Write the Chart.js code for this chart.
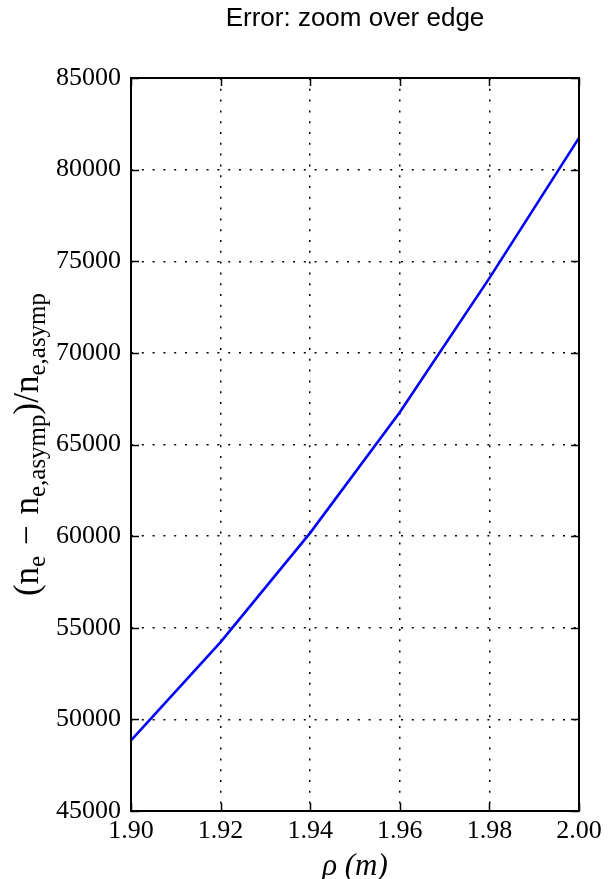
<!DOCTYPE html>
<html>
<head>
<meta charset="utf-8">
<script src="https://cdn.jsdelivr.net/npm/chart.js@4/dist/chart.umd.min.js"></script>
<style>
  html, body { margin: 0; padding: 0; background: #ffffff; }
  #wrap { width: 611px; height: 879px; position: relative; }
</style>
</head>
<body>
<div id="wrap"><canvas id="c" width="611" height="879"></canvas></div>
<script>
// ---- data ----
const xValues = [1.90, 1.92, 1.94, 1.96, 1.98, 2.00];
const yValues = [48850, 54220, 60180, 66760, 74080, 81730];
const xTicks = [1.90, 1.92, 1.94, 1.96, 1.98, 2.00];
const yTicks = [45000, 50000, 55000, 60000, 65000, 70000, 75000, 80000, 85000];
const titleText = 'Error: zoom over edge';
const xLabel = 'ρ (m)';
// y label pieces: [text, isSubscript]
const yLabelParts = [['(n', false], ['e', true], [' ', false], ['−', false], [' ', false], ['n', false], ['e,asymp', true], [')/n', false], ['e,asymp', true]];

const points = xValues.map((x, i) => ({ x: x, y: yValues[i] }));

const frameAndTicks = {
  id: 'frameAndTicks',
  afterDraw(chart) {
    const { ctx, chartArea: a, scales } = chart;
    ctx.save();
    ctx.strokeStyle = '#000';
    ctx.lineWidth = 1.5;
    const tl = 8;
    ctx.beginPath();
    xTicks.forEach(v => {
      const px = Math.round(scales.x.getPixelForValue(v)) + 0.5;
      ctx.moveTo(px, a.bottom); ctx.lineTo(px, a.bottom - tl);
      ctx.moveTo(px, a.top); ctx.lineTo(px, a.top + tl);
    });
    yTicks.forEach(v => {
      const py = Math.round(scales.y.getPixelForValue(v)) + 0.5;
      ctx.moveTo(a.left, py); ctx.lineTo(a.left + tl, py);
      ctx.moveTo(a.right, py); ctx.lineTo(a.right - tl, py);
    });
    ctx.stroke();
    ctx.lineWidth = 2;
    ctx.strokeRect(a.left, a.top, a.right - a.left, a.bottom - a.top);
    ctx.restore();

    // rotated y-axis label with subscripts
    const mainFont = '35px "Liberation Serif"';
    const subFont = '25px "Liberation Serif"';
    ctx.save();
    let total = 0;
    const widths = yLabelParts.map(([t, sub]) => {
      ctx.font = sub ? subFont : mainFont;
      const w = ctx.measureText(t).width + (t === ' ' ? 2 : 0);
      total += w;
      return w;
    });
    const cy = (a.top + a.bottom) / 2;
    ctx.translate(38, cy);
    ctx.rotate(-Math.PI / 2);
    ctx.fillStyle = '#000';
    ctx.textBaseline = 'alphabetic';
    ctx.textAlign = 'left';
    let x = -total / 2;
    yLabelParts.forEach(([t, sub], i) => {
      ctx.font = sub ? subFont : mainFont;
      ctx.fillText(t, x, sub ? 7 : 0);
      x += widths[i];
    });
    ctx.restore();
  }
};

new Chart(document.getElementById('c'), {
  type: 'line',
  data: {
    datasets: [{
      data: points,
      borderColor: '#0000ff',
      borderWidth: 2.6,
      pointRadius: 0,
      tension: 0,
      fill: false
    }]
  },
  options: {
    responsive: false,
    animation: false,
    devicePixelRatio: 1,
    layout: { padding: { left: 0, right: 32, top: 0, bottom: 0 } },
    plugins: {
      legend: { display: false },
      tooltip: { enabled: false },
      title: {
        display: true,
        text: titleText,
        fullSize: false,
        color: '#000',
        font: { family: '"Liberation Sans", Arial, sans-serif', size: 26, weight: 'normal', lineHeight: 1.2 },
        padding: { top: 3.4, bottom: 43.4 }
      }
    },
    scales: {
      x: {
        type: 'linear',
        min: 1.90,
        max: 2.00,
        afterFit(scale) { scale.height = 68; },
        afterBuildTicks(scale) { scale.ticks = xTicks.map(v => ({ value: v })); },
        ticks: {
          color: '#000',
          padding: 5,
          maxRotation: 0,
          font: { family: '"Liberation Serif", serif', size: 26 },
          callback: v => Number(v).toFixed(2)
        },
        grid: { color: '#000', lineWidth: 1.5, drawTicks: false },
        border: { display: false, dash: [2, 8.8] },
        title: {
          display: true,
          text: xLabel,
          color: '#000',
          font: { family: '"Liberation Serif", serif', size: 31, style: 'italic', lineHeight: 0.8 },
          padding: { top: 0, bottom: 0 }
        }
      },
      y: {
        type: 'linear',
        min: 45000,
        max: 85000,
        afterFit(scale) { scale.width = 131; },
        afterBuildTicks(scale) { scale.ticks = yTicks.map(v => ({ value: v })); },
        ticks: {
          color: '#000',
          padding: 10,
          font: { family: '"Liberation Serif", serif', size: 26 },
          callback: v => String(v)
        },
        grid: { color: '#000', lineWidth: 1.5, drawTicks: false },
        border: { display: false, dash: [2, 8.8] }
      }
    }
  },
  plugins: [frameAndTicks]
});
</script>
</body>
</html>
